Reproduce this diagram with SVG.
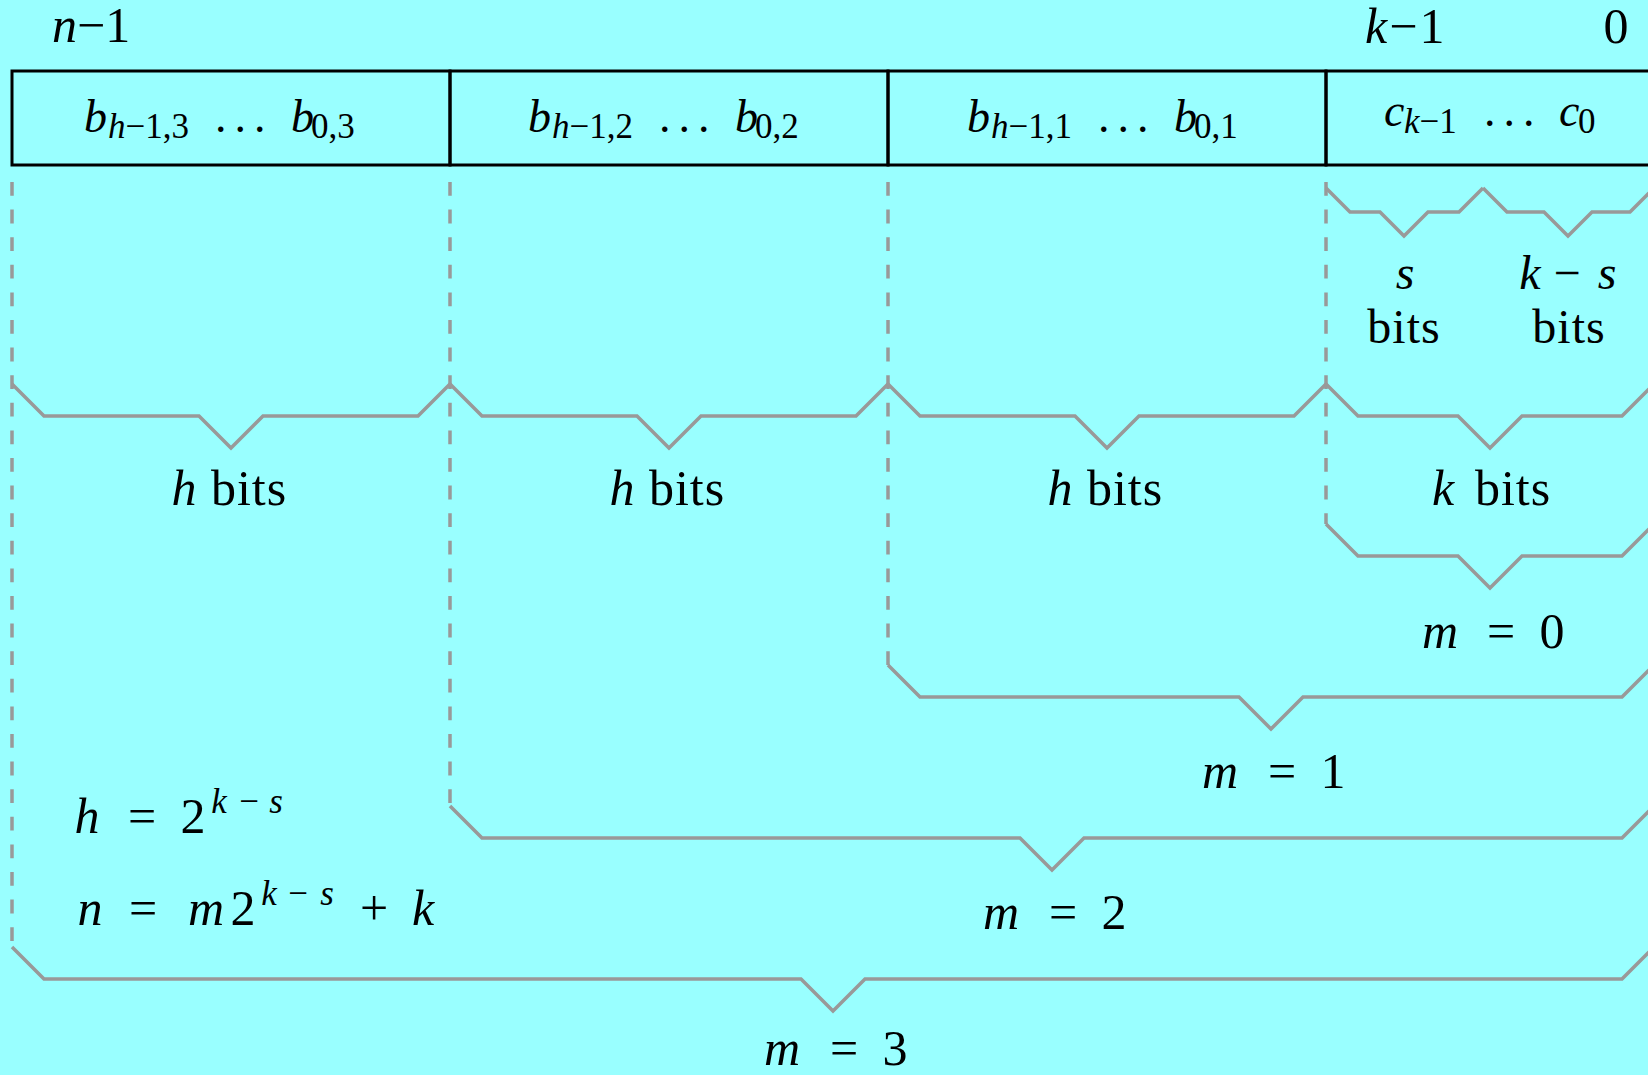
<svg xmlns="http://www.w3.org/2000/svg" width="1648" height="1075" viewBox="0 0 1648 1075">
<style>
.box{fill:none;stroke:#000;stroke-width:3}
.brace{fill:none;stroke:#999;stroke-width:3.5;stroke-linejoin:miter}
.dash{fill:none;stroke:#999;stroke-width:3.5;stroke-dasharray:13.8 13.8}
text{font-family:"Liberation Serif","Times New Roman",serif;font-size:50px;fill:#000;text-anchor:middle}
.s{text-anchor:start}
.i{font-style:italic}
.b{font-size:46px}
.sub{font-size:35px}
.dots{font-size:46px;letter-spacing:-1.75px;text-anchor:start}
.w{letter-spacing:1px}
.sm{font-size:48px}
</style>
<rect x="0" y="0" width="1648" height="1075" fill="#99ffff"/>
<g id="connectors">
<path class="dash" d="M12,182V947"/>
<path class="dash" d="M450,182V806"/>
<path class="dash" d="M888,182V665"/>
<path class="dash" d="M1326,182V524"/>
<polyline class="brace" points="1326,188 1350,212 1380,212 1404,236 1428,212 1459,212 1483,188"/>
<polyline class="brace" points="1483,188 1507,212 1544,212 1568,236 1592,212 1630,212 1654,188"/>
<polyline class="brace" points="12,384 44,416 199,416 231,448 263,416 418,416 450,384"/>
<polyline class="brace" points="450,384 482,416 637,416 669,448 701,416 856,416 888,384"/>
<polyline class="brace" points="888,384 920,416 1075,416 1107,448 1139,416 1294,416 1326,384"/>
<polyline class="brace" points="1326,384 1358,416 1458,416 1490,448 1522,416 1622,416 1654,384"/>
<polyline class="brace" points="1326,524 1358,556 1458,556 1490,588 1522,556 1622,556 1654,524"/>
<polyline class="brace" points="888,665 920,697 1239,697 1271,729 1303,697 1622,697 1654,665"/>
<polyline class="brace" points="450,806 482,838 1020,838 1052,870 1084,838 1622,838 1654,806"/>
<polyline class="brace" points="12,947 44,979 801,979 833,1011 865,979 1622,979 1654,947"/>
</g>
<g id="seg3">
<rect class="box" x="12" y="71" width="438" height="94"/>
<text x="84" y="132" class="s i b">b</text>
<text x="108" y="138" class="s sub"><tspan class="i">h</tspan>−1,3</text>
<text x="215" y="132" class="dots">. . .</text>
<text x="291" y="132" class="s i b">b</text>
<text x="311" y="138" class="s sub">0,3</text>
</g>
<g id="seg2">
<rect class="box" x="450" y="71" width="438" height="94"/>
<text x="528" y="132" class="s i b">b</text>
<text x="552" y="138" class="s sub"><tspan class="i">h</tspan>−1,2</text>
<text x="659" y="132" class="dots">. . .</text>
<text x="735" y="132" class="s i b">b</text>
<text x="755" y="138" class="s sub">0,2</text>
</g>
<g id="seg1">
<rect class="box" x="888" y="71" width="438" height="94"/>
<text x="967" y="132" class="s i b">b</text>
<text x="991" y="138" class="s sub"><tspan class="i">h</tspan>−1,1</text>
<text x="1098" y="132" class="dots">. . .</text>
<text x="1174" y="132" class="s i b">b</text>
<text x="1194" y="138" class="s sub">0,1</text>
</g>
<g id="seg0">
<rect class="box" x="1326" y="71" width="340" height="94"/>
<text x="1384" y="126" class="s i b">c</text>
<text x="1404" y="133" class="s sub"><tspan class="i">k</tspan>−1</text>
<text x="1484" y="126" class="dots">. . .</text>
<text x="1559" y="126" class="s i b">c</text>
<text x="1578" y="133" class="s sub">0</text>
</g>
<g id="toplabels">
<text x="52" y="42" class="s"><tspan class="i">n</tspan>−1</text>
<text x="1365" y="43" class="s" letter-spacing="2"><tspan class="i">k</tspan>−1</text>
<text x="1616" y="43">0</text>
</g>
<g id="sublabels">
<text class="sm"><tspan x="1405" y="289" class="i">s</tspan><tspan x="1404" y="343" class="w">bits</tspan></text>
<text class="sm"><tspan x="1530" y="289" class="i">k</tspan><tspan x="1567" y="289">−</tspan><tspan x="1607" y="289" class="i">s</tspan><tspan x="1569" y="343" class="w">bits</tspan></text>
</g>
<g id="hlabels">
<text x="184" y="505" class="i">h</text>
<text x="249" y="505" class="w">bits</text>
<text x="622" y="505" class="i">h</text>
<text x="687" y="505" class="w">bits</text>
<text x="1060" y="505" class="i">h</text>
<text x="1125" y="505" class="w">bits</text>
<text x="1443" y="505" class="i">k</text>
<text x="1513" y="505" class="w">bits</text>
</g>
<g id="mlabels">
<text x="1440" y="648" class="i">m</text><text x="1501" y="648">=</text><text x="1552" y="648">0</text>
<text x="1220" y="788" class="i">m</text><text x="1282" y="788">=</text><text x="1333" y="788">1</text>
<text x="1001" y="929" class="i">m</text><text x="1063" y="929">=</text><text x="1114" y="929">2</text>
<text x="782" y="1065" class="i">m</text><text x="844" y="1065">=</text><text x="895" y="1065">3</text>
</g>
<g id="formulas">
<text x="87" y="833" class="i">h</text>
<text x="142" y="833">=</text>
<text x="193" y="833">2</text>
<text x="219" y="813" class="sub i">k</text>
<text x="249" y="813" class="sub">−</text>
<text x="276" y="813" class="sub i">s</text>
<text x="90" y="925" class="i">n</text>
<text x="143" y="925">=</text>
<text x="206" y="925" class="i">m</text>
<text x="243" y="925">2</text>
<text x="269" y="905" class="sub i">k</text>
<text x="298" y="905" class="sub">−</text>
<text x="327" y="905" class="sub i">s</text>
<text x="374" y="925">+</text>
<text x="423" y="925" class="i">k</text>
</g>
</svg>
